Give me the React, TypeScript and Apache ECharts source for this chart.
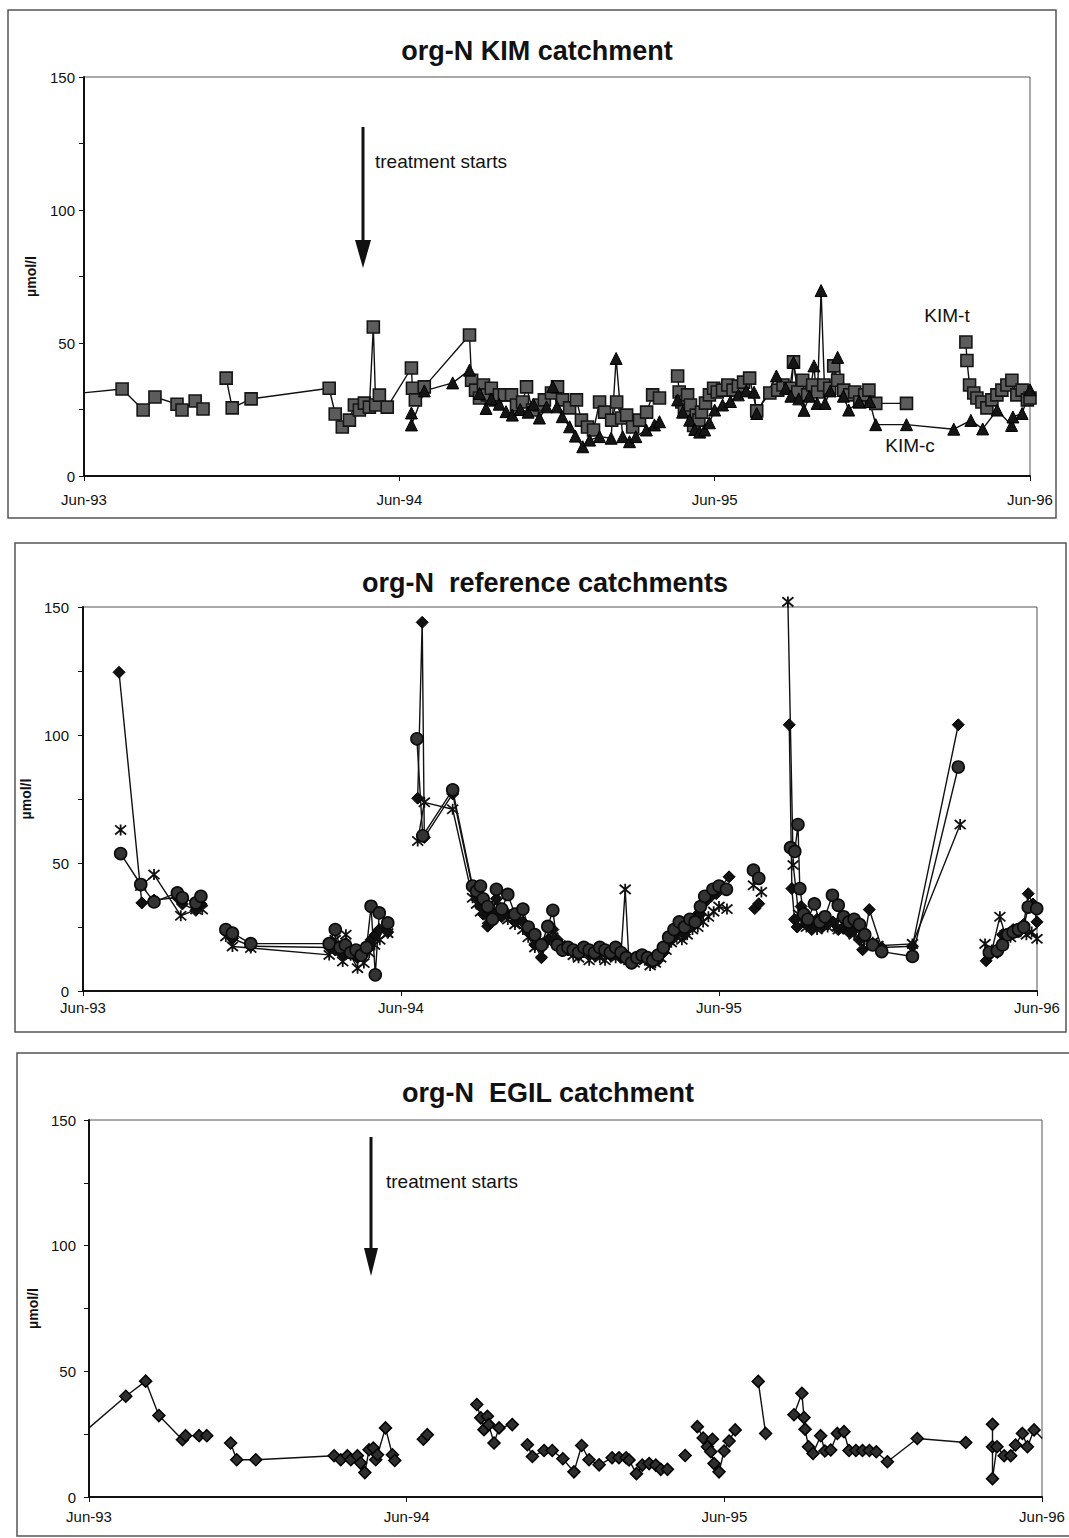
import React, { useEffect, useRef } from 'react';
import * as echarts from 'echarts';

// x = months since June 1993, y = org-N in µmol/l
const xTickLabels = ['Jun-93', 'Jun-94', 'Jun-95', 'Jun-96'];
const yAxisName = 'µmol/l';
const panelTitles = ['org-N KIM catchment', 'org-N  reference catchments', 'org-N  EGIL catchment'];

// ---- KIM catchment: KIM-t (squares) ----
const kimT1 = [[-1, 30.3], [1.45, 32.7], [2.25, 24.8], [2.7, 29.7], [3.54, 27], [3.73, 24.8], [4.23, 28.2], [4.53, 25.2]];
const kimT2 = [[5.41, 36.8], [5.64, 25.6], [6.36, 29], [9.33, 33], [9.56, 23.3], [9.83, 18.4], [10.1, 21], [10.29, 26.7], [10.48, 24.8], [10.67, 27.4], [10.86, 25.9], [11.01, 56], [11.1, 26.7], [11.24, 30.4], [11.54, 25.9], [12.46, 40.6], [12.5, 33], [12.61, 28.6], [12.95, 33.5], [14.67, 53], [14.75, 36], [14.9, 32.3], [15.05, 29.3], [15.2, 34.2], [15.35, 30.5], [15.5, 33], [15.66, 28.6], [15.81, 30.5], [16.0, 30.5], [16.27, 30.5], [16.46, 26.7], [16.69, 27.8], [16.84, 33.5], [17.07, 24.8], [17.33, 26.7], [17.52, 28.6], [17.79, 31.2], [18.02, 33.5], [18.21, 28.6], [18.48, 25.6], [18.74, 28.6], [18.93, 21], [19.16, 18.4], [19.39, 17.3], [19.62, 27.8], [19.81, 24], [20.08, 21], [20.27, 27.8], [20.46, 21.8], [20.65, 22.9], [20.88, 18.4], [21.14, 21], [21.41, 24], [21.64, 30.5], [21.9, 29.3]];
const kimT3 = [[22.59, 37.6], [22.65, 31.6], [22.75, 27.8], [22.85, 24.8], [22.97, 30.5], [23.08, 26.7], [23.2, 19], [23.3, 22.9], [23.4, 21], [23.5, 24], [23.65, 27.4], [23.8, 30.5], [23.96, 33], [24.1, 31.6], [24.3, 32.3], [24.5, 34.2], [24.7, 32.3], [24.9, 33.8], [25.1, 35.3], [25.33, 36.8], [25.6, 24.5], [26.1, 31.2], [26.4, 32.3], [26.6, 34.2], [26.86, 33], [27.0, 42.9], [27.16, 31.6], [27.35, 36], [27.54, 30.5], [27.73, 34.2], [27.92, 31.6], [28.15, 34.2], [28.38, 33], [28.53, 41.4], [28.68, 36], [28.91, 32.3], [29.14, 30.5], [29.33, 31.6], [29.52, 27.8], [29.71, 30.5], [29.87, 32.3], [30.13, 27.3], [31.3, 27.3]];
const kimT4 = [[33.56, 50.4], [33.6, 43.4], [33.7, 34.2], [33.86, 31.2], [33.98, 29.3], [34.17, 27.8], [34.36, 25.6], [34.55, 28.6], [34.74, 30.5], [34.93, 32.3], [35.12, 34.2], [35.31, 36], [35.5, 30.5], [35.7, 32.3], [35.9, 28.6], [36.0, 29.3]];
const kimTSegments = [kimT1, kimT2, kimT3, kimT4];

// ---- KIM catchment: KIM-c (triangles) ----
const kimC1 = [[12.46, 23.7], [12.46, 19.2], [12.95, 32], [14.03, 35], [14.67, 39.8], [15.05, 31], [15.3, 25.4], [15.5, 29], [15.8, 27], [16.06, 24.2], [16.3, 22.9], [16.6, 25], [16.9, 24], [17.1, 27], [17.33, 21.8], [17.6, 26], [17.84, 33.6], [18.0, 26], [18.2, 22.3], [18.48, 18.5], [18.7, 15], [18.98, 11], [19.24, 13.5], [19.62, 14.8], [20.06, 14.2], [20.25, 44.2], [20.5, 14.8], [20.76, 12.9], [21.0, 14.8], [21.4, 17.3], [21.71, 19.2], [21.9, 20.4]];
const kimC2 = [[22.59, 28.6], [22.78, 24], [23.05, 21], [23.24, 17.5], [23.43, 16.5], [23.62, 17.3], [23.8, 20], [24.0, 24.8], [24.3, 26.7], [24.6, 28], [24.9, 30.5], [25.2, 32], [25.5, 31.5], [25.6, 23.5], [26.35, 37.6], [26.7, 33], [26.9, 30], [27.0, 42.7], [27.2, 29], [27.4, 24.7], [27.6, 30], [27.78, 41.4], [27.9, 27.3], [28.05, 69.7], [28.2, 27.3], [28.4, 32], [28.68, 44.6], [28.9, 30], [29.1, 24.8], [29.5, 28], [29.9, 28], [30.13, 19.3], [31.3, 19.3], [33.1, 17.6], [33.75, 20.9], [34.2, 17.7], [34.75, 24.8], [35.3, 19], [35.35, 22.2], [35.7, 23.5], [36.0, 32.4]];
const kimCSegments = [kimC1, kimC2];

// ---- reference catchments: diamonds ----
const refD1 = [[1.36, 124.5], [2.22, 34.4], [2.68, 35.5], [3.56, 36.5], [3.75, 34], [4.26, 31.5], [4.45, 34]];
const refD2 = [[5.39, 23], [5.64, 20.5], [6.33, 17.5], [9.29, 17], [9.52, 16], [9.8, 14], [9.92, 17], [10.2, 15], [10.36, 13], [10.6, 16], [10.87, 20], [11.03, 22], [11.18, 24], [11.5, 23]];
const refD3 = [[12.63, 75.3], [12.8, 144], [12.88, 60], [13.95, 77], [14.7, 40], [14.85, 37], [15.0, 33], [15.1, 30], [15.27, 25.3], [15.45, 31], [15.6, 36], [15.8, 29], [16.03, 30], [16.3, 27], [16.6, 27], [16.9, 22], [17.05, 18], [17.3, 13], [17.54, 20], [17.73, 24], [17.9, 20], [18.1, 17], [18.3, 16], [18.5, 15], [18.7, 14], [18.9, 16], [19.1, 15], [19.3, 14], [19.5, 16], [19.7, 15], [19.9, 14], [20.1, 16], [20.3, 13], [20.5, 14], [20.7, 12], [20.9, 13], [21.1, 14], [21.3, 12], [21.5, 11], [21.7, 12], [21.9, 15], [22.1, 19], [22.3, 21], [22.5, 24], [22.7, 22], [22.9, 27], [23.1, 29], [23.3, 30], [23.5, 35], [23.7, 37], [23.9, 38], [24.1, 41], [24.38, 44.6]];
const refD4 = [[25.35, 32.2], [25.5, 34.1]];
const refD5 = [[26.65, 104], [26.75, 40], [26.85, 28], [26.95, 25], [27.1, 33], [27.3, 26], [27.5, 24], [27.7, 28], [27.9, 25], [28.1, 26], [28.3, 27], [28.5, 24], [28.7, 25], [28.9, 23], [29.1, 24], [29.3, 20], [29.42, 16.1], [29.67, 31.8], [30.14, 17], [31.3, 17.5], [33.03, 104]];
const refD6 = [[34.08, 11.8], [34.2, 14], [34.5, 15], [34.7, 22], [34.9, 22], [35.1, 24], [35.3, 23], [35.5, 26], [35.67, 38], [35.85, 34], [36.0, 27]];
const refDSegments = [refD1, refD2, refD3, refD4, refD5, refD6];

// ---- reference catchments: circles ----
const refC1 = [[1.42, 53.7], [2.18, 41.6], [2.68, 34.8], [3.56, 38.3], [3.75, 36.4], [4.26, 34.4], [4.45, 37]];
const refC2 = [[5.39, 24], [5.64, 22.6], [6.33, 18.5], [9.29, 18.5], [9.52, 24], [9.7, 17], [9.9, 18], [10.1, 15], [10.3, 16], [10.5, 14], [10.7, 17], [10.87, 33.1], [11.03, 6.3], [11.18, 30.5], [11.5, 26.6]];
const refC3 = [[12.6, 98.5], [12.82, 60.6], [13.95, 78.6], [14.7, 41], [14.85, 39], [15.0, 41], [15.1, 36], [15.27, 33], [15.45, 28], [15.6, 39.7], [15.8, 32], [16.03, 37.7], [16.3, 30], [16.6, 32], [16.8, 25], [17.05, 22], [17.3, 18], [17.54, 25.2], [17.73, 31.5], [17.9, 18], [18.1, 16], [18.3, 17], [18.5, 16], [18.7, 15], [18.9, 17], [19.1, 16], [19.3, 15], [19.5, 17], [19.7, 16], [19.9, 15], [20.1, 17], [20.3, 15], [20.5, 13], [20.7, 11], [20.9, 13], [21.1, 14], [21.3, 13], [21.5, 12], [21.7, 14], [21.9, 17], [22.1, 21], [22.3, 24], [22.5, 27], [22.7, 25], [22.9, 28], [23.1, 27], [23.3, 33], [23.46, 37], [23.77, 39.7], [24.0, 41], [24.28, 39.7]];
const refC4 = [[25.3, 47.2], [25.5, 44]];
const refC5 = [[26.7, 56], [26.86, 54.5], [26.98, 65], [27.05, 40], [27.2, 30], [27.35, 28], [27.6, 34], [27.8, 27], [28.0, 29], [28.28, 37.4], [28.5, 33.5], [28.7, 29], [28.9, 27], [29.1, 28], [29.3, 26], [29.5, 22], [29.8, 18], [30.14, 15.4], [31.3, 13.5], [33.03, 87.5]];
const refC6 = [[34.2, 15.1], [34.5, 15.7], [34.7, 18], [34.9, 22], [35.1, 23], [35.3, 24], [35.5, 25], [35.67, 32.8], [35.99, 32.2]];
const refCSegments = [refC1, refC2, refC3, refC4, refC5, refC6];

// ---- reference catchments: asterisks ----
const refS1 = [[1.42, 62.9]];
const refS2 = [[2.18, 41], [2.68, 45.5], [3.69, 29.4], [4.26, 31.8], [4.5, 31.8]];
const refS3 = [[5.39, 21.3], [5.64, 17.4], [6.33, 16.8], [9.29, 14.1], [9.52, 20], [9.8, 11.5], [9.92, 22], [10.1, 14], [10.36, 8.9], [10.6, 10.9], [10.8, 15], [11.0, 18], [11.2, 20], [11.5, 22.6]];
const refS4 = [[12.63, 58.6], [12.88, 73.7], [13.95, 71], [14.7, 36.4], [14.85, 34], [15.0, 31], [15.27, 28], [15.45, 33], [15.6, 30], [16.03, 27.9], [16.3, 26], [16.6, 24], [16.8, 21], [17.05, 17], [17.3, 15], [17.54, 19], [17.73, 21], [18.0, 18], [18.2, 16], [18.5, 14], [18.7, 13], [18.9, 15], [19.1, 12], [19.3, 14], [19.5, 13], [19.7, 12], [19.9, 14], [20.1, 13], [20.3, 14], [20.46, 39.7], [20.6, 12], [20.8, 11], [21.0, 13], [21.2, 12], [21.4, 10], [21.6, 11], [21.8, 13], [22.0, 16], [22.2, 19], [22.4, 21], [22.6, 20], [22.8, 22], [23.0, 24], [23.2, 25], [23.4, 27], [23.6, 29], [23.8, 31], [24.0, 33], [24.3, 32]];
const refS5 = [[25.3, 41.3], [25.6, 38.7]];
const refS6 = [[26.6, 152], [26.8, 49.2], [26.9, 40], [27.0, 30], [27.1, 28], [27.3, 25], [27.5, 27], [27.7, 24], [27.9, 26], [28.1, 25], [28.3, 27], [28.5, 24], [28.7, 26], [28.9, 24], [29.1, 22], [29.3, 24], [29.5, 20], [29.8, 19], [30.0, 17.7], [31.3, 18.4], [33.1, 65]];
const refS7 = [[34.04, 18.4], [34.3, 16], [34.6, 29], [34.8, 22], [35.0, 21], [35.2, 23], [35.4, 24], [35.6, 22], [35.8, 23], [36.0, 20.4]];
const refSSegments = [refS1, refS2, refS3, refS4, refS5, refS6, refS7];

// ---- EGIL catchment: diamonds ----
const egil1 = [[-1, 18.4], [1.39, 40.1], [2.14, 46.1], [2.64, 32.4], [3.53, 22.8], [3.65, 24.4], [4.16, 24.4], [4.45, 24.4]];
const egil2 = [[5.35, 21.5], [5.58, 14.8], [6.3, 14.8], [9.26, 16.4], [9.51, 14.8], [9.76, 16.4], [9.89, 14.8], [10.14, 16.4], [10.26, 13.5], [10.42, 9.7], [10.58, 18.8], [10.74, 19.5], [10.83, 14.8], [10.9, 16.8], [11.2, 27.5], [11.46, 16.8], [11.55, 14.5]];
const egil3 = [[12.63, 23], [12.78, 24.8]];
const egil4 = [[14.65, 36.8], [14.8, 31.5], [14.92, 26.8], [15.05, 32.1], [15.1, 28.8], [15.3, 21.5], [15.49, 27.5], [15.99, 28.8]];
const egil5 = [[16.56, 20.8], [16.75, 16.1], [17.19, 18.5], [17.5, 18.5], [17.9, 15.2], [18.32, 10], [18.61, 20.5], [18.89, 14.8], [19.27, 12.8], [19.76, 15.6], [20.02, 15.6], [20.29, 15.6], [20.4, 14.7], [20.68, 9.3], [20.9, 12.7], [21.16, 13.3], [21.41, 12.7], [21.6, 11], [21.85, 11]];
const egil6 = [[22.52, 16.5]];
const egil7 = [[22.98, 28], [23.2, 23.5], [23.36, 20], [23.55, 23], [23.49, 18], [23.61, 13.3], [23.8, 10], [23.99, 18.3], [24.18, 22.3], [24.41, 26.7]];
const egil8 = [[25.28, 46], [25.56, 25.3]];
const egil9 = [[26.63, 32.7], [26.93, 41.3], [27.01, 31.6], [27.05, 27], [27.18, 20], [27.35, 17.3], [27.64, 24.4], [27.8, 18.3], [28.02, 18.7], [28.27, 25.3], [28.52, 26], [28.71, 18.5], [28.97, 18.5], [29.22, 18.5], [29.48, 18.5], [29.74, 18], [30.16, 14], [31.29, 23.3], [33.12, 21.7]];
const egil10 = [[34.13, 28.9], [34.13, 20], [34.13, 7.3], [34.3, 20], [34.57, 16.4], [34.82, 16.4], [35.0, 20.7], [35.26, 25.3], [35.45, 20], [35.7, 26.7], [36.01, 23.3]];
const egilSegments = [egil1, egil2, egil3, egil4, egil5, egil6, egil7, egil8, egil9, egil10];

const FONT = "'Liberation Sans', Arial, Helvetica, sans-serif";
const NARROW = "'Liberation Sans Narrow', 'Liberation Sans', Arial, sans-serif";
const ASTERISK = 'path://M0,0L10,10M10,0L0,10M5,-1L5,11';

const gridBoxes = [
  { left: 84, top: 77, width: 946, height: 399 },
  { left: 83, top: 607, width: 954, height: 384 },
  { left: 89, top: 1120, width: 953, height: 377 },
];
const xLabelMargin = [16, 9, 12];
const yLabelMargin = [9, 14, 13];
const yNameGap = [46, 42, 45];

function lineSeg(data: number[][], idx: number, symbol: string, size: number, item: any, clip = true) {
  return {
    type: 'line',
    xAxisIndex: idx,
    yAxisIndex: idx,
    data,
    symbol,
    symbolSize: size,
    clip,
    itemStyle: item,
    lineStyle: { color: '#111', width: 1.4 },
    emphasis: { disabled: true },
    animation: false,
  };
}

export default function App() {
  const ref = useRef<HTMLDivElement>(null);
  useEffect(() => {
    document.body.style.margin = '0';
    const chart = echarts.init(ref.current!, undefined, { renderer: 'svg' });

    const squareStyle = { color: '#5c5c5c', borderColor: '#151515', borderWidth: 1.6 };
    const triStyle = { color: '#151515', borderColor: '#000', borderWidth: 1 };
    const diamondStyle = { color: '#111', borderColor: '#000', borderWidth: 1 };
    const circleStyle = { color: '#333', borderColor: '#0a0a0a', borderWidth: 1.6 };
    const starStyle = { color: 'rgba(0,0,0,0)', borderColor: '#111', borderWidth: 1.8 };
    const egilStyle = { color: '#2e2e2e', borderColor: '#000', borderWidth: 1.5 };

    const series: any[] = [];
    kimTSegments.forEach((s) => series.push(lineSeg(s, 0, 'rect', 12, squareStyle)));
    kimCSegments.forEach((s) => series.push(lineSeg(s, 0, 'triangle', 12, triStyle)));
    refDSegments.forEach((s) => series.push(lineSeg(s, 1, 'diamond', 12, diamondStyle, false)));
    refSSegments.forEach((s) => series.push(lineSeg(s, 1, ASTERISK, 11, starStyle, false)));
    refCSegments.forEach((s) => series.push(lineSeg(s, 1, 'circle', 12, circleStyle, false)));
    egilSegments.forEach((s) => series.push(lineSeg(s, 2, 'diamond', 12, egilStyle)));

    const axisLine = { show: true, lineStyle: { color: '#111', width: 2 } };
    const titleStyle = { fontSize: 27, fontWeight: 'bold', color: '#111', fontFamily: FONT };

    const option: any = {
      animation: false,
      backgroundColor: '#ffffff',
      title: [
        { text: panelTitles[0], left: 532, top: 32, textAlign: 'center', textStyle: titleStyle },
        { text: panelTitles[1], left: 540, top: 564, textAlign: 'center', textStyle: titleStyle },
        { text: panelTitles[2], left: 543, top: 1074, textAlign: 'center', textStyle: titleStyle },
      ],
      grid: gridBoxes.map((g) => ({ ...g, show: true, borderColor: '#555', borderWidth: 1, backgroundColor: 'transparent' })),
      xAxis: gridBoxes.map((_, i) => ({
        gridIndex: i,
        type: 'value',
        min: 0,
        max: 36,
        interval: 12,
        axisLine,
        axisTick: { show: true, length: 5, lineStyle: { color: '#111', width: 1 } },
        axisLabel: {
          formatter: (v: number) => xTickLabels[Math.round(v / 12)] ?? '',
          fontSize: 15,
          color: '#111',
          margin: xLabelMargin[i],
          fontFamily: FONT,
        },
        splitLine: { show: false },
      })),
      yAxis: gridBoxes.map((_, i) => ({
        gridIndex: i,
        type: 'value',
        min: 0,
        max: 150,
        interval: 50,
        name: yAxisName,
        nameLocation: 'middle',
        nameGap: yNameGap[i],
        nameRotate: 90,
        nameTextStyle: { fontWeight: 'bold', fontSize: 14, color: '#111', fontFamily: FONT },
        axisLine,
        axisTick: { show: true, length: 5, lineStyle: { color: '#111', width: 1 } },
        minorTick: { show: true, splitNumber: 2, length: 5, lineStyle: { color: '#111', width: 1 } },
        axisLabel: { fontSize: 15, color: '#111', margin: yLabelMargin[i], fontFamily: FONT },
        splitLine: { show: false },
      })),
      graphic: [
        // panel frames
        { type: 'rect', shape: { x: 8, y: 10, width: 1048, height: 508 }, style: { fill: 'none', stroke: '#555', lineWidth: 1.5 }, z: -1 },
        { type: 'rect', shape: { x: 15, y: 543, width: 1051, height: 489 }, style: { fill: 'none', stroke: '#555', lineWidth: 1.5 }, z: -1 },
        { type: 'rect', shape: { x: 17, y: 1053, width: 1060, height: 483 }, style: { fill: 'none', stroke: '#555', lineWidth: 1.5 }, z: -1 },
        // KIM arrow + labels
        { type: 'line', shape: { x1: 363, y1: 127, x2: 363, y2: 245 }, style: { stroke: '#111', lineWidth: 3 } },
        { type: 'polygon', shape: { points: [[355, 240], [371, 240], [363, 268]] }, style: { fill: '#111' } },
        { type: 'text', x: 375, y: 161, style: { text: 'treatment starts', fontSize: 19, fontFamily: NARROW, fill: '#111', textVerticalAlign: 'middle' } },
        { type: 'text', x: 947, y: 315, style: { text: 'KIM-t', fontSize: 19, fontFamily: NARROW, fill: '#111', textAlign: 'center', textVerticalAlign: 'middle' } },
        { type: 'text', x: 910, y: 445, style: { text: 'KIM-c', fontSize: 19, fontFamily: NARROW, fill: '#111', textAlign: 'center', textVerticalAlign: 'middle' } },
        // EGIL arrow + label
        { type: 'line', shape: { x1: 371, y1: 1137, x2: 371, y2: 1252 }, style: { stroke: '#111', lineWidth: 3 } },
        { type: 'polygon', shape: { points: [[364, 1248], [378, 1248], [371, 1276]] }, style: { fill: '#111' } },
        { type: 'text', x: 386, y: 1181, style: { text: 'treatment starts', fontSize: 19, fontFamily: NARROW, fill: '#111', textVerticalAlign: 'middle' } },
      ],
      series,
    };
    chart.setOption(option);
    return () => chart.dispose();
  }, []);
  return <div ref={ref} style={{ width: 1069, height: 1538 }} />;
}
